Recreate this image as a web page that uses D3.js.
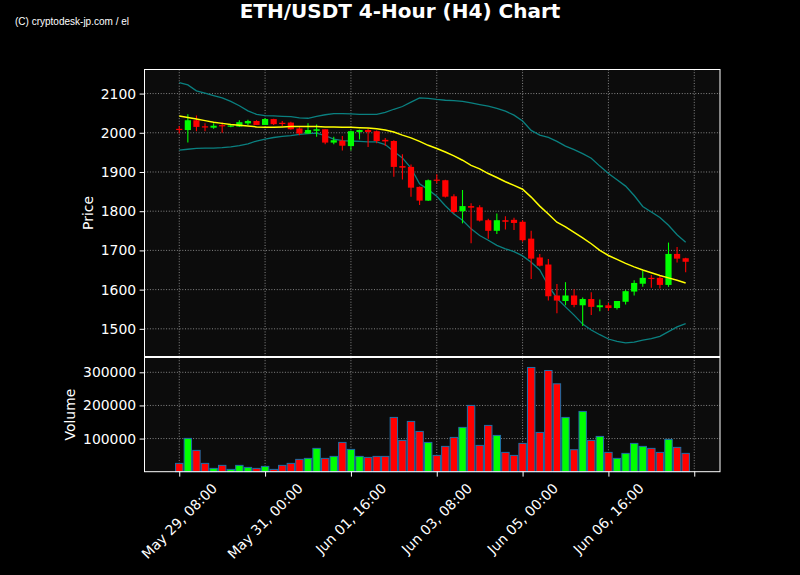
<!DOCTYPE html>
<html><head><meta charset="utf-8">
<script src="https://cdn.jsdelivr.net/npm/d3@7"></script>
<style>html,body{margin:0;padding:0;background:#000;} svg{display:block}</style>
</head><body>
<svg id="chart" width="800" height="575"></svg>
<script>
// ---- data (4-hour candles, May 29 08:00 onward) ----
const opens  = [2010,2007,2032,2016,2013,2019,2016,2016,2024,2030, 2020,2035,2025,2026,2011,1998,2005,2009,1975,1980, 1966,2002,2007,2004,1982,1979,1915,1913,1862,1827, 1880,1879,1838,1800,1813,1810,1777,1750,1777,1778, 1773,1730,1682,1664,1585,1571,1585,1560,1576,1555, 1560,1553,1569,1595,1615,1630,1630,1612,1691,1680];
const highs  = [2017,2047,2044,2024,2024,2026,2020,2032,2033,2032, 2037,2036,2030,2028,2014,2024,2021,2009,1990,1992, 2006,2008,2011,2006,1987,1981,1945,1919,1863,1881, 1894,1880,1843,1854,1820,1815,1781,1794,1787,1783, 1777,1750,1691,1678,1614,1619,1601,1580,1593,1575, 1566,1571,1599,1624,1648,1637,1637,1720,1709,1681];
const lows   = [1998,1975,2004,2004,2010,2000,2014,2015,2020,2020, 2020,2020,2017,2008,1994,1998,1990,1971,1971,1955, 1955,1983,1964,1973,1966,1888,1881,1837,1816,1826, 1871,1835,1794,1769,1718,1774,1730,1742,1753,1752, 1722,1627,1659,1572,1540,1560,1555,1507,1535,1545, 1546,1549,1562,1585,1607,1605,1603,1607,1669,1644];
const closes = [2007,2032,2015,2014,2018,2017,2018,2027,2030,2020, 2035,2022,2023,2009,1998,2007,2009,1975,1981,1967, 2004,2007,2002,1979,1978,1913,1911,1860,1827,1879, 1878,1837,1798,1813,1809,1776,1750,1777,1773,1770, 1726,1679,1661,1583,1572,1585,1561,1576,1556,1560, 1553,1571,1596,1617,1630,1627,1612,1691,1679,1671];
const volumes = [25100,100500,64300,25100,10000,19100,7000,19100,13000,10000, 16000,7000,19100,25100,37200,40200,70400,40200,46200,88400, 67300,46200,43200,46200,46200,163800,94500,151800,121600,88400, 49200,76400,103500,133700,200000,79400,139700,109500,58300,49200, 85400,314600,118600,305500,265300,163800,66300,181900,94500,106500, 58300,40200,55300,85400,76400,70400,58300,97500,73400,55300];
const sma20 = [2043,2039,2035,2031,2027,2024,2021,2019,2017,2015, 2014,2014,2015,2016,2016,2016,2016,2015,2015,2014, 2014,2013,2012,2010,2007,2002,1994,1987,1978,1968, 1960,1951,1941,1930,1917,1908,1896,1886,1875,1866, 1856,1836,1813,1793,1772,1760,1746,1732,1717,1700, 1687,1677,1667,1658,1650,1643,1636,1630,1624,1617];
const bbUpper = [2128,2122,2107,2101,2095,2089,2080,2069,2056,2047, 2044,2043,2042,2041,2038,2037,2042,2046,2049,2049, 2048,2047,2047,2047,2052,2060,2067,2078,2089,2088, 2085,2083,2082,2080,2076,2072,2068,2062,2055,2045, 2030,2006,1994,1988,1978,1966,1957,1947,1935,1915, 1896,1880,1864,1840,1812,1798,1784,1764,1740,1721];
const bbLower = [1956,1958,1960,1961,1961,1962,1964,1967,1972,1979, 1984,1988,1991,1993,1996,1998,1999,1993,1984,1980, 1979,1978,1977,1977,1970,1952,1936,1910,1870,1855, 1838,1814,1793,1777,1755,1738,1726,1713,1704,1697, 1686,1670,1650,1610,1578,1556,1535,1512,1497,1485, 1474,1468,1464,1466,1471,1475,1481,1493,1505,1513];
const xTickIndex  = [0,10,20,30,40,50,60];
const xTickLabels = ["May 29, 08:00","May 31, 00:00","Jun 01, 16:00","Jun 03, 08:00","Jun 05, 00:00","Jun 06, 16:00",""];
const priceTicks  = [1500,1600,1700,1800,1900,2000,2100];
const volumeTicks = [100000,200000,300000];

// ---- layout ----
const svg = d3.select("#chart");
const L = 144.5, R = 720;
const pTop = 69.5, pBot = 356.5, vTop = 357.5, vBot = 471.7;
const UP = "#00ff00", DOWN = "#ff0000", FONT = "DejaVu Sans, sans-serif";

svg.append("rect").attr("width",800).attr("height",575).attr("fill","#000");

const x = d3.scaleLinear().domain([-4.05, 63]).range([L, R]);
const yP = d3.scaleLinear().domain([1429.4, 2161.4]).range([pBot, pTop]);
const yV = d3.scaleLinear().domain([0, 344700]).range([vBot, vTop]);
const idx = d3.range(opens.length);

// panels background
svg.append("rect").attr("x",L).attr("y",pTop).attr("width",R-L).attr("height",pBot-pTop).attr("fill","#0c0c0c");
svg.append("rect").attr("x",L).attr("y",vTop).attr("width",R-L).attr("height",vBot-vTop).attr("fill","#0c0c0c");

// grids
const grid = svg.append("g").attr("stroke","#959595").attr("stroke-width",0.9).attr("stroke-dasharray","1,1.7");
xTickIndex.forEach(t => {
  grid.append("line").attr("x1",x(t)).attr("x2",x(t)).attr("y1",pTop).attr("y2",pBot);
  grid.append("line").attr("x1",x(t)).attr("x2",x(t)).attr("y1",vTop).attr("y2",vBot);
});
priceTicks.forEach(t => grid.append("line").attr("x1",L).attr("x2",R).attr("y1",yP(t)).attr("y2",yP(t)));
volumeTicks.forEach(t => grid.append("line").attr("x1",L).attr("x2",R).attr("y1",yV(t)).attr("y2",yV(t)));

// bands and SMA
const line = arr => d3.line().x((d,i)=>x(i)).y(d=>yP(d))(arr);
svg.append("path").attr("d",line(bbUpper)).attr("fill","none").attr("stroke","#0a8080").attr("stroke-width",1.3);
svg.append("path").attr("d",line(bbLower)).attr("fill","none").attr("stroke","#0a8080").attr("stroke-width",1.3);

// candles
const bw = 6.2;
const cg = svg.append("g");
idx.forEach(i => {
  const col = closes[i] >= opens[i] ? UP : DOWN;
  cg.append("line").attr("x1",x(i)).attr("x2",x(i)).attr("y1",yP(highs[i])).attr("y2",yP(lows[i]))
    .attr("stroke",col).attr("stroke-width",1.1);
  const top = yP(Math.max(opens[i],closes[i])), bot = yP(Math.min(opens[i],closes[i]));
  const h = Math.max(1.2, bot-top);
  cg.append("rect").attr("x",x(i)-bw/2).attr("y",(top+bot)/2-h/2).attr("width",bw).attr("height",h).attr("fill",col);
});
svg.append("path").attr("d",line(sma20)).attr("fill","none").attr("stroke","#ffff00").attr("stroke-width",1.5);

// volume bars
const vw = 7.4;
const vg = svg.append("g");
idx.forEach(i => {
  const col = closes[i] >= opens[i] ? UP : DOWN;
  vg.append("rect").attr("x",x(i)-vw/2).attr("y",yV(volumes[i])).attr("width",vw).attr("height",yV(0)-yV(volumes[i]))
    .attr("fill",col).attr("stroke","#1f6fa8").attr("stroke-width",1);
});

// frames
svg.append("rect").attr("x",L).attr("y",pTop).attr("width",R-L).attr("height",pBot-pTop).attr("fill","none").attr("stroke","#fff").attr("stroke-width",1);
svg.append("rect").attr("x",L).attr("y",vTop).attr("width",R-L).attr("height",vBot-vTop).attr("fill","none").attr("stroke","#fff").attr("stroke-width",1);

// axes
function styleAxis(g){
  g.select(".domain").remove();
  g.selectAll("line").attr("stroke","#fff").attr("stroke-width",1);
  g.selectAll("text").attr("fill","#fff").attr("font-family",FONT).attr("font-size","13.9px");
}
svg.append("g").attr("transform",`translate(${L},0)`)
  .call(d3.axisLeft(yP).tickValues(priceTicks).tickFormat(d3.format("d")).tickSize(4.9).tickPadding(3.5)).call(styleAxis);
svg.append("g").attr("transform",`translate(${L},0)`)
  .call(d3.axisLeft(yV).tickValues(volumeTicks).tickFormat(d3.format("d")).tickSize(4.9).tickPadding(3.5)).call(styleAxis);

const xg = svg.append("g").attr("transform",`translate(0,${vBot})`)
  .call(d3.axisBottom(x).tickValues(xTickIndex).tickFormat("").tickSize(4.9));
xg.select(".domain").remove();
xg.selectAll("line").attr("stroke","#fff");
xTickIndex.forEach((t,k) => {
  if (!xTickLabels[k]) return;
  const tx = svg.append("text").text(xTickLabels[k]).attr("fill","#fff")
    .attr("font-family",FONT).attr("font-size","13.9px").attr("text-anchor","middle").attr("dominant-baseline","central");
  const len = tx.node().getComputedTextLength();
  const cy = vBot + 8.4 + (len + 16) * 0.7071 / 2;
  tx.attr("transform",`translate(${x(t)},${cy}) rotate(-45)`);
});

// labels
svg.append("text").text("Price").attr("transform",`translate(92.5,${(pTop+pBot)/2}) rotate(-90)`)
  .attr("text-anchor","middle").attr("fill","#fff").attr("font-family",FONT).attr("font-size","13.9px");
svg.append("text").text("Volume").attr("transform",`translate(74.5,${(vTop+vBot)/2}) rotate(-90)`)
  .attr("text-anchor","middle").attr("fill","#fff").attr("font-family",FONT).attr("font-size","13.9px");

svg.append("text").text("ETH/USDT 4-Hour (H4) Chart").attr("x",400).attr("y",17.5)
  .attr("text-anchor","middle").attr("fill","#fff").attr("font-family",FONT).attr("font-weight","bold").attr("font-size","20px");
svg.append("text").text("(C) cryptodesk-jp.com / el").attr("x",15).attr("y",25)
  .attr("textLength",114).attr("lengthAdjust","spacingAndGlyphs")
  .attr("fill","#fff").attr("font-family","Liberation Sans Narrow, Liberation Sans, sans-serif").attr("font-size","11px");
</script>
</body></html>
